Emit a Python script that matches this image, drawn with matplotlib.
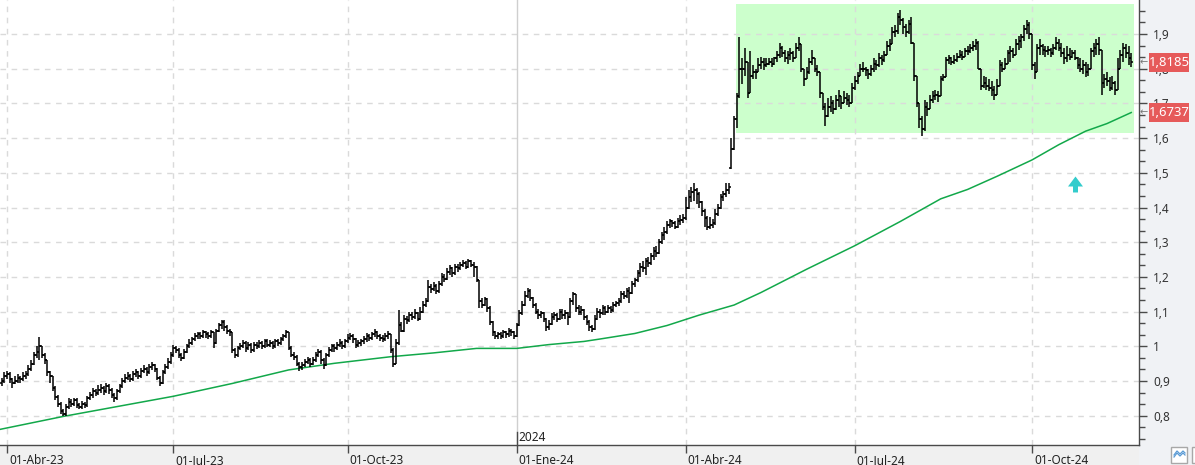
import matplotlib
matplotlib.use('Agg')
import matplotlib.pyplot as plt
import numpy as np
from matplotlib.path import Path
from matplotlib.patches import Rectangle
import matplotlib.transforms as mtransforms
from matplotlib.ticker import FixedLocator, FuncFormatter

# ---------------- data (daily bars, index = trading day) ----------------
closes = [
    0.900,0.915,0.920,0.905,0.895,0.900,0.910,0.905,0.915,0.920,
    0.935,0.950,0.975,0.985,1.000,0.975,0.960,0.925,0.915,0.880,
    0.855,0.835,0.815,0.805,0.825,0.840,0.835,0.845,0.830,0.825,
    0.835,0.830,0.850,0.860,0.870,0.865,0.875,0.880,0.870,0.885,
    0.875,0.860,0.850,0.870,0.885,0.900,0.910,0.915,0.905,0.920,
    0.925,0.915,0.930,0.935,0.925,0.940,0.945,0.935,0.910,0.895,
    0.925,0.940,0.955,0.975,0.995,0.990,0.975,0.965,0.985,1.000,
    1.010,1.020,1.030,1.035,1.030,1.040,1.035,1.030,1.040,1.010,
    1.045,1.060,1.070,1.055,1.045,1.040,0.990,0.975,0.995,1.000,
    1.010,0.995,1.005,0.990,1.005,1.000,1.010,1.000,1.015,1.005,
    1.010,1.000,1.015,1.010,1.020,1.030,1.040,0.995,0.975,0.970,
    0.950,0.940,0.945,0.955,0.960,0.950,0.960,0.975,0.985,0.960,
    0.945,0.975,0.990,1.000,0.995,1.005,1.010,1.000,1.015,1.025,
    1.030,1.020,1.005,1.010,1.015,1.020,1.030,1.025,1.035,1.040,
    1.030,1.025,1.020,1.030,1.035,0.990,0.950,1.010,1.060,1.045,
    1.080,1.075,1.090,1.085,1.095,1.080,1.100,1.120,1.130,1.170,
    1.165,1.175,1.160,1.180,1.200,1.195,1.215,1.225,1.210,1.230,
    1.225,1.235,1.240,1.230,1.245,1.235,1.230,1.190,1.130,1.120,
    1.135,1.110,1.070,1.040,1.030,1.035,1.030,1.040,1.035,1.045,
    1.040,1.030,1.060,1.095,1.120,1.145,1.160,1.140,1.120,1.100,
    1.090,1.095,1.080,1.055,1.065,1.085,1.090,1.080,1.100,1.090,
    1.095,1.085,1.130,1.150,1.110,1.100,1.105,1.085,1.070,1.055,
    1.050,1.080,1.100,1.095,1.110,1.100,1.110,1.105,1.120,1.125,
    1.130,1.150,1.145,1.160,1.155,1.180,1.190,1.210,1.230,1.225,
    1.245,1.240,1.260,1.275,1.270,1.300,1.320,1.330,1.350,1.360,
    1.355,1.345,1.360,1.365,1.370,1.400,1.430,1.445,1.450,1.440,
    1.415,1.390,1.370,1.345,1.350,1.355,1.380,1.400,1.430,1.440,
    1.450,1.460,1.570,1.655,1.720,1.800,1.800,1.820,1.730,1.780,
    1.790,1.790,1.810,1.820,1.810,1.815,1.820,1.815,1.830,1.840,
    1.860,1.845,1.830,1.840,1.845,1.830,1.860,1.870,1.800,1.770,
    1.790,1.820,1.830,1.800,1.790,1.730,1.690,1.665,1.690,1.700,
    1.685,1.710,1.720,1.700,1.715,1.710,1.700,1.745,1.765,1.780,
    1.800,1.800,1.795,1.785,1.800,1.815,1.810,1.830,1.825,1.840,
    1.865,1.870,1.905,1.910,1.950,1.940,1.920,1.905,1.930,1.875,
    1.780,1.700,1.655,1.625,1.690,1.685,1.710,1.720,1.725,1.720,
    1.770,1.775,1.825,1.830,1.820,1.825,1.835,1.840,1.835,1.850,
    1.850,1.860,1.865,1.875,1.800,1.750,1.760,1.750,1.745,1.740,
    1.725,1.750,1.810,1.800,1.815,1.845,1.850,1.840,1.870,1.880,
    1.890,1.915,1.925,1.900,1.810,1.790,1.860,1.865,1.855,1.850,
    1.855,1.845,1.860,1.875,1.860,1.845,1.830,1.840,1.835,1.845,
    1.830,1.810,1.800,1.810,1.790,1.800,1.850,1.860,1.870,1.855,
    1.760,1.770,1.765,1.745,1.760,1.740,1.800,1.840,1.860,1.845,
    1.830,1.8185,
]
lows = [
    0.885,0.895,0.905,0.895,0.880,0.890,0.895,0.895,0.900,0.905,
    0.915,0.930,0.945,0.965,0.960,0.965,0.950,0.915,0.895,0.870,
    0.845,0.825,0.805,0.798,0.800,0.820,0.825,0.828,0.822,0.818,
    0.820,0.822,0.826,0.845,0.852,0.858,0.860,0.866,0.860,0.865,
    0.862,0.852,0.840,0.846,0.866,0.880,0.895,0.902,0.898,0.900,
    0.912,0.905,0.910,0.922,0.915,0.920,0.932,0.925,0.902,0.885,
    0.892,0.920,0.935,0.950,0.970,0.980,0.965,0.958,0.962,0.980,
    0.995,1.005,1.015,1.022,1.020,1.025,1.025,1.020,1.025,0.995,
    1.008,1.040,1.050,1.045,1.035,1.030,0.982,0.965,0.970,0.988,
    0.995,0.985,0.990,0.982,0.985,0.992,0.995,0.992,0.996,0.998,
    0.998,0.992,0.995,1.002,1.005,1.015,1.025,0.988,0.968,0.960,
    0.942,0.930,0.932,0.940,0.948,0.940,0.945,0.955,0.968,0.950,
    0.935,0.942,0.970,0.985,0.985,0.990,0.998,0.992,0.995,1.010,
    1.018,1.010,0.995,0.998,1.002,1.008,1.012,1.015,1.018,1.028,
    1.020,1.015,1.012,1.015,1.022,0.982,0.940,0.948,1.005,1.040,
    1.042,1.065,1.070,1.075,1.078,1.072,1.076,1.095,1.112,1.128,
    1.155,1.158,1.150,1.155,1.175,1.185,1.190,1.205,1.200,1.205,
    1.215,1.220,1.228,1.222,1.225,1.228,1.200,1.185,1.110,1.110,
    1.115,1.100,1.060,1.030,1.020,1.022,1.020,1.025,1.025,1.028,
    1.030,1.020,1.028,1.058,1.090,1.115,1.140,1.130,1.110,1.092,
    1.080,1.082,1.070,1.045,1.048,1.060,1.075,1.070,1.075,1.080,
    1.080,1.060,1.082,1.120,1.100,1.090,1.090,1.075,1.060,1.045,
    1.040,1.048,1.075,1.082,1.090,1.090,1.095,1.095,1.100,1.112,
    1.115,1.125,1.135,1.140,1.125,1.150,1.172,1.185,1.200,1.215,
    1.205,1.230,1.235,1.250,1.258,1.265,1.295,1.305,1.325,1.340,
    1.345,1.338,1.340,1.350,1.355,1.365,1.395,1.415,1.420,1.410,
    1.400,1.375,1.345,1.335,1.338,1.340,1.350,1.375,1.395,1.420,
    1.430,1.438,1.510,1.565,1.630,1.715,1.755,1.780,1.715,1.770,
    1.770,1.770,1.790,1.800,1.795,1.805,1.810,1.805,1.810,1.820,
    1.830,1.835,1.820,1.815,1.825,1.820,1.840,1.850,1.790,1.750,
    1.775,1.785,1.810,1.790,1.780,1.715,1.680,1.635,1.660,1.675,
    1.670,1.680,1.690,1.685,1.700,1.695,1.690,1.715,1.740,1.755,
    1.785,1.790,1.780,1.770,1.780,1.790,1.795,1.805,1.810,1.820,
    1.845,1.850,1.875,1.890,1.900,1.925,1.900,1.890,1.900,1.870,
    1.765,1.690,1.630,1.605,1.620,1.665,1.690,1.700,1.710,1.705,
    1.730,1.765,1.780,1.815,1.810,1.815,1.820,1.830,1.825,1.835,
    1.840,1.845,1.850,1.855,1.800,1.740,1.745,1.740,1.735,1.720,
    1.710,1.725,1.770,1.790,1.800,1.815,1.820,1.830,1.850,1.855,
    1.860,1.880,1.900,1.885,1.795,1.770,1.795,1.840,1.840,1.835,
    1.840,1.835,1.840,1.855,1.850,1.835,1.815,1.820,1.825,1.830,
    1.825,1.800,1.790,1.785,1.775,1.780,1.800,1.835,1.840,1.840,
    1.725,1.745,1.750,1.735,1.740,1.725,1.770,1.800,1.820,1.830,
    1.810,1.805,
]
highs = [
    0.910,0.925,0.930,0.925,0.910,0.915,0.920,0.915,0.925,0.930,
    0.945,0.960,0.985,1.000,1.026,0.995,0.980,0.960,0.930,0.915,
    0.885,0.860,0.840,0.820,0.835,0.850,0.848,0.852,0.850,0.838,
    0.842,0.840,0.858,0.868,0.880,0.878,0.888,0.890,0.885,0.893,
    0.890,0.880,0.866,0.878,0.892,0.908,0.920,0.925,0.920,0.928,
    0.935,0.930,0.938,0.945,0.940,0.948,0.955,0.950,0.938,0.915,
    0.932,0.950,0.965,0.985,1.005,1.002,0.995,0.980,0.992,1.008,
    1.020,1.028,1.038,1.042,1.040,1.046,1.045,1.040,1.046,1.042,
    1.050,1.068,1.077,1.075,1.060,1.050,1.042,0.995,1.002,1.010,
    1.018,1.015,1.012,1.010,1.012,1.012,1.018,1.015,1.022,1.020,
    1.018,1.015,1.022,1.020,1.028,1.036,1.046,1.040,1.000,0.985,
    0.975,0.955,0.955,0.962,0.968,0.965,0.970,0.985,0.992,0.988,
    0.965,0.982,0.998,1.008,1.006,1.012,1.020,1.015,1.022,1.035,
    1.038,1.035,1.025,1.018,1.022,1.030,1.038,1.035,1.042,1.050,
    1.045,1.035,1.032,1.038,1.045,1.035,0.995,1.020,1.105,1.070,
    1.090,1.088,1.100,1.098,1.108,1.100,1.112,1.130,1.140,1.190,
    1.180,1.185,1.180,1.188,1.210,1.208,1.225,1.235,1.230,1.238,
    1.238,1.242,1.248,1.245,1.252,1.250,1.242,1.232,1.192,1.140,
    1.142,1.138,1.115,1.072,1.045,1.042,1.040,1.048,1.045,1.052,
    1.050,1.045,1.068,1.105,1.130,1.160,1.167,1.165,1.142,1.125,
    1.108,1.102,1.098,1.082,1.075,1.095,1.100,1.095,1.108,1.108,
    1.105,1.100,1.140,1.156,1.150,1.118,1.115,1.108,1.090,1.075,
    1.062,1.090,1.110,1.108,1.118,1.115,1.118,1.115,1.128,1.132,
    1.140,1.160,1.158,1.168,1.170,1.188,1.198,1.220,1.240,1.245,
    1.255,1.258,1.270,1.285,1.290,1.310,1.330,1.345,1.360,1.368,
    1.365,1.360,1.370,1.378,1.380,1.430,1.450,1.460,1.470,1.455,
    1.445,1.420,1.395,1.375,1.372,1.368,1.395,1.410,1.440,1.448,
    1.470,1.470,1.600,1.665,1.730,1.890,1.830,1.860,1.820,1.850,
    1.810,1.800,1.830,1.835,1.830,1.830,1.830,1.830,1.835,1.850,
    1.875,1.865,1.855,1.850,1.860,1.850,1.875,1.890,1.870,1.800,
    1.805,1.830,1.855,1.830,1.810,1.790,1.730,1.700,1.715,1.720,
    1.710,1.725,1.740,1.720,1.735,1.730,1.725,1.760,1.780,1.790,
    1.815,1.820,1.805,1.800,1.810,1.830,1.825,1.845,1.840,1.850,
    1.880,1.885,1.920,1.925,1.960,1.970,1.945,1.930,1.940,1.950,
    1.875,1.780,1.700,1.665,1.710,1.705,1.725,1.735,1.740,1.735,
    1.780,1.785,1.835,1.840,1.835,1.840,1.845,1.855,1.850,1.860,
    1.865,1.870,1.880,1.885,1.880,1.800,1.780,1.775,1.770,1.765,
    1.750,1.770,1.825,1.820,1.830,1.855,1.865,1.860,1.885,1.895,
    1.900,1.925,1.940,1.935,1.900,1.820,1.870,1.885,1.870,1.865,
    1.865,1.860,1.870,1.890,1.885,1.875,1.860,1.865,1.860,1.855,
    1.855,1.835,1.830,1.825,1.820,1.815,1.860,1.875,1.885,1.890,
    1.855,1.785,1.790,1.775,1.780,1.765,1.830,1.855,1.875,1.870,
    1.865,1.845,
]
first_open = 0.895
gap_opens = {272: 1.515}

# 200-session moving average, read at a few sessions
ma_idx  = [-1, 23, 64, 86, 107, 124, 145, 161, 177, 192, 204, 217, 223, 236, 248, 260,
           273, 283, 300, 318, 335, 350, 360, 371, 384, 394, 404, 412, 421]
ma_vals = [0.760, 0.798, 0.856, 0.893, 0.932, 0.951, 0.970, 0.981, 0.994, 0.994, 1.005,
           1.014, 1.021, 1.037, 1.060, 1.090, 1.119, 1.155, 1.222, 1.290, 1.360, 1.425,
           1.452, 1.490, 1.537, 1.581, 1.620, 1.642, 1.6737]

last_close = 1.8185
last_ma = 1.6737

# consolidation zone (session index range, price range)
zone_start, zone_end = 273.7, 422.0
zone_low, zone_high = 1.615, 1.986

# buy signal marker
signal_idx, signal_price = 400.0, 1.468

# date ticks (session index) and labels
date_idx = [2, 64, 129, 192, 255, 318, 384]
date_labels = ['01-Abr-23', '01-Jul-23', '01-Oct-23', '01-Ene-24',
               '01-Abr-24', '01-Jul-24', '01-Oct-24']
year_idx, year_label = 192, '2024'

y_major = [0.8, 0.9, 1.0, 1.1, 1.2, 1.3, 1.4, 1.5, 1.6, 1.7, 1.8, 1.9]

# ---------------- build OHLC ----------------
n = len(closes)
assert len(lows) == n and len(highs) == n
closes_a = np.array(closes)
opens_a = np.concatenate([[first_open], closes_a[:-1]])
for k, v in gap_opens.items():
    opens_a[k] = v
highs_a = np.maximum.reduce([np.array(highs), opens_a, closes_a])
lows_a = np.minimum.reduce([np.array(lows), opens_a, closes_a])
x = np.arange(n)

# ---------------- figure ----------------
W, H = 1195, 465
AX_W, AX_H = 1139, 445
plt.rcParams['font.family'] = ['Noto Sans', 'DejaVu Sans']
fig = plt.figure(figsize=(W / 100, H / 100), dpi=100, facecolor='#f0f2f5')
ax = fig.add_axes([0, 20 / H, AX_W / W, AX_H / H])
ax.set_facecolor('white')

fig.patches.append(Rectangle((0, 0), AX_W / W, 20 / H, transform=fig.transFigure,
                             fc='#f0f0f0', ec='none', zorder=-1))

ymin, ymax = 0.7156, 1.998
ax.set_xlim(-0.61, 423.9)
ax.set_ylim(ymin, ymax)
px_per_unit_y = AX_H / (ymax - ymin)

# zone
ax.add_patch(Rectangle((zone_start, zone_low), zone_end - zone_start, zone_high - zone_low,
                       fc='#ccffcc', ec='none', zorder=0.5))

# grid
for v in y_major:
    ax.axhline(v, color='#dadada', lw=1, ls=(0, (4, 4)), zorder=1)
for xi in date_idx:
    if xi == year_idx:
        ax.axvline(xi, color='#cfcfcf', lw=1, ls='-', zorder=1)
    else:
        ax.axvline(xi, color='#dadada', lw=1, ls=(0, (4, 4)), zorder=1)

# moving average
ax.plot(ma_idx, ma_vals, color='#12a84a', lw=1.1, zorder=2)

# OHLC bars
lw = 1.1
ax.vlines(x, lows_a, highs_a, color='black', lw=lw, zorder=3)
ax.hlines(opens_a, x - 0.85, x, color='black', lw=lw, zorder=3)
ax.hlines(closes_a, x, x + 0.85, color='black', lw=lw, zorder=3)

# signal arrow marker
verts = [(-7.5, 0), (0, 10), (7.5, 0), (2.5, 0), (2.5, -6), (-2.5, -6), (-2.5, 0), (-7.5, 0)]
verts = [(a, b - 2) for a, b in verts]
codes = [Path.MOVETO] + [Path.LINETO] * 6 + [Path.CLOSEPOLY]
arrow_marker = Path(verts, codes)
ax.plot([signal_idx], [signal_price], marker=arrow_marker, markersize=11.5,
        color='#33cccc', mec='none', ls='none', zorder=4)

# spines
for s in ['left', 'top']:
    ax.spines[s].set_visible(False)
for s in ['right', 'bottom']:
    ax.spines[s].set_color('#4a4a4a')
    ax.spines[s].set_linewidth(1)

# y axis on right
ax.yaxis.tick_right()
ax.yaxis.set_major_locator(FixedLocator(y_major))
minors = [round(0.7 + k / 30, 5) for k in range(0, 40)]
ax.yaxis.set_minor_locator(FixedLocator(minors))

def fmt(v, pos):
    s = ('%.1f' % v)
    if s.endswith('.0'):
        s = s[:-2]
    return s.replace('.', ',')

ax.yaxis.set_major_formatter(FuncFormatter(fmt))
ax.tick_params(axis='y', which='major', direction='out', length=6, width=1,
               color='#4a4a4a', labelsize=8.5, labelcolor='#333333', pad=4)
ax.tick_params(axis='y', which='minor', direction='out', length=4, width=1,
               color='#4a4a4a')

# x axis
ax.set_xticks(date_idx)
ax.set_xticklabels(date_labels)
ax.tick_params(axis='x', which='major', direction='out', length=6, width=1,
               color='#4a4a4a', labelsize=8.5, labelcolor='#222222', pad=0.5)
offset = mtransforms.ScaledTranslation(2 / 100, 0, fig.dpi_scale_trans)
for lbl in ax.get_xticklabels():
    lbl.set_ha('left')
    lbl.set_transform(lbl.get_transform() + offset)

# year marker
bt = mtransforms.blended_transform_factory(ax.transData, ax.transAxes)
ax.plot([year_idx, year_idx], [0, 13 / AX_H], color='#4a4a4a', lw=1, transform=bt,
        zorder=4, clip_on=False)
ax.text(year_idx, 8 / AX_H, year_label, transform=bt + offset, ha='left', va='center',
        fontsize=8.5, color='#222222', zorder=4)

# price labels on right (red boxes)
rt = mtransforms.blended_transform_factory(ax.transAxes, ax.transData)
box_w_px, box_h_px, box_gap_px = 40, 19, 10
for val in [last_close, last_ma]:
    lab = ('%.4f' % val).replace('.', ',')
    ax.add_patch(Rectangle((1 + box_gap_px / AX_W, val - box_h_px / 2 / px_per_unit_y),
                           box_w_px / AX_W, box_h_px / px_per_unit_y, transform=rt,
                           fc='#e65a5a', ec='none', zorder=10, clip_on=False))
    ax.text(1 + (box_gap_px + box_w_px / 2) / AX_W, val, lab, transform=rt,
            ha='center', va='center', fontsize=9.4, color='white', zorder=11, clip_on=False)
    ax.annotate('\u2190', xy=(1, val), xycoords=rt, xytext=(5, 0), textcoords='offset pixels',
                ha='center', va='center', fontsize=7, color='#777777', zorder=10,
                annotation_clip=False, family='DejaVu Sans')

# bottom-right small icons
fig.patches.append(Rectangle((1171 / W, 2 / H), 16 / W, 16 / H, transform=fig.transFigure,
                             fc='white', ec='#a8a8a8', lw=1))
fig.patches.append(Rectangle((1192 / W, 2 / H), 12 / W, 16 / H, transform=fig.transFigure,
                             fc='white', ec='#a8a8a8', lw=1))
zx = [1174, 1177, 1180, 1183, 1185]
zy1 = [8, 12, 9, 12, 10]
zy2 = [10, 14, 11, 14, 12]
fig.add_artist(plt.Line2D([a / W for a in zx], [b / H for b in zy1], color='#5b9bd5', lw=0.9))
fig.add_artist(plt.Line2D([a / W for a in zx], [b / H for b in zy2], color='#5b9bd5', lw=0.9))

fig.savefig('out.png', dpi=100, facecolor=fig.get_facecolor())
